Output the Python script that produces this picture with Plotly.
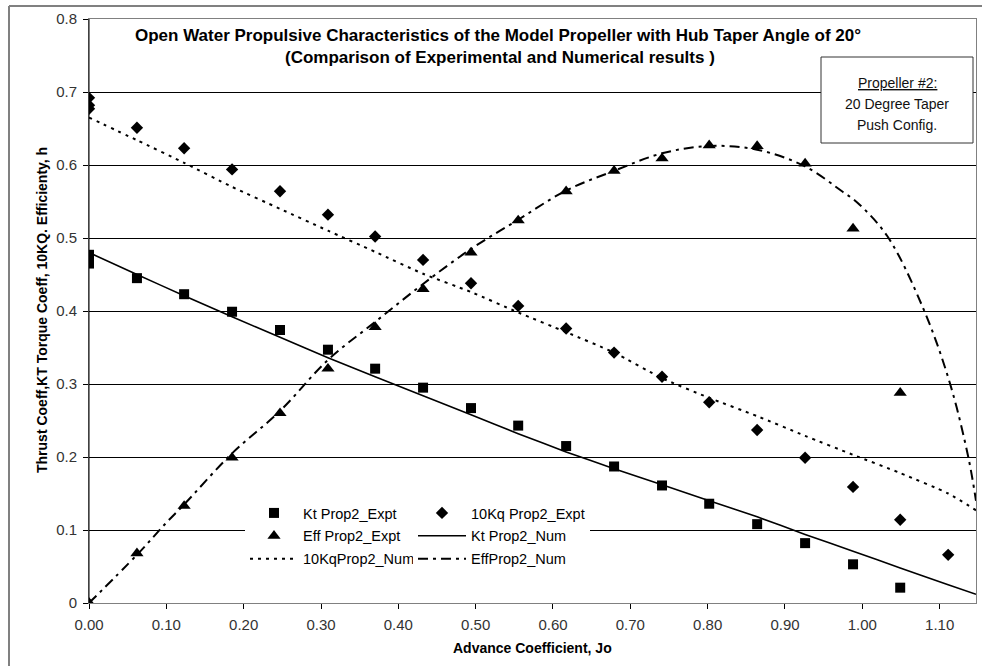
import plotly.graph_objects as go

# ---------------- data ----------------
J_expt = [0.0, 0.0, 0.062, 0.123, 0.185, 0.247, 0.309, 0.370, 0.432, 0.494,
          0.555, 0.617, 0.679, 0.741, 0.802, 0.864, 0.926, 0.988, 1.049]
kt_expt = [0.477, 0.465, 0.445, 0.423, 0.399, 0.374, 0.347, 0.321, 0.295, 0.267,
           0.243, 0.215, 0.187, 0.161, 0.136, 0.108, 0.082, 0.053, 0.021]

J_kq_expt = [0.0, 0.0, 0.0, 0.062, 0.123, 0.185, 0.247, 0.309, 0.370, 0.432, 0.494,
             0.555, 0.617, 0.679, 0.741, 0.802, 0.864, 0.926, 0.988, 1.049, 1.111]
kq10_expt = [0.692, 0.682, 0.677, 0.651, 0.623, 0.594, 0.564, 0.532, 0.502, 0.470, 0.438,
             0.407, 0.376, 0.343, 0.310, 0.275, 0.237, 0.199, 0.159, 0.114, 0.066]

J_eff_expt = [0.0, 0.0, 0.062, 0.123, 0.185, 0.247, 0.309, 0.370, 0.432, 0.494,
              0.555, 0.617, 0.679, 0.741, 0.802, 0.864, 0.926, 0.988, 1.049]
eff_expt = [0.0, 0.0, 0.068, 0.133, 0.199, 0.260, 0.321, 0.378, 0.430, 0.480,
            0.524, 0.564, 0.592, 0.609, 0.627, 0.626, 0.602, 0.513, 0.288]

J_num = [0.0, 0.062, 0.123, 0.185, 0.247, 0.309, 0.370, 0.432, 0.494, 0.555,
         0.617, 0.679, 0.741, 0.802, 0.864, 0.926, 0.988, 1.049, 1.111, 1.147]
kt_num = [0.480, 0.450, 0.421, 0.392, 0.364, 0.336, 0.310, 0.284, 0.258, 0.232,
          0.207, 0.184, 0.162, 0.140, 0.118, 0.094, 0.071, 0.048, 0.025, 0.012]
kq10_num = [0.665, 0.634, 0.603, 0.570, 0.540, 0.510, 0.481, 0.451, 0.426, 0.398,
            0.371, 0.343, 0.308, 0.281, 0.256, 0.229, 0.203, 0.178, 0.150, 0.127]

J_eff_num = [0.0, 0.062, 0.100, 0.123, 0.185, 0.247, 0.309, 0.370, 0.432, 0.494, 0.555,
             0.617, 0.679, 0.741, 0.802, 0.864, 0.926, 0.975, 0.993, 1.032, 1.079,
             1.113, 1.137, 1.147]
eff_num = [0.0, 0.066, 0.110, 0.135, 0.205, 0.263, 0.333, 0.385, 0.437, 0.485, 0.525,
           0.565, 0.592, 0.616, 0.626, 0.621, 0.598, 0.563, 0.549, 0.503, 0.403,
           0.302, 0.200, 0.140]

x_ticks = [0.0, 0.1, 0.2, 0.3, 0.4, 0.5, 0.6, 0.7, 0.8, 0.9, 1.0, 1.1]
y_ticks = [0, 0.1, 0.2, 0.3, 0.4, 0.5, 0.6, 0.7, 0.8]

title_line1 = "Open Water Propulsive Characteristics of the Model Propeller with Hub Taper Angle of 20°"
title_line2 = "(Comparison of Experimental and Numerical results )"
box_lines = ["<u>Propeller #2:</u>", "20 Degree Taper", "Push Config."]
x_title = "Advance Coefficient, Jo"
y_title = "Thrust Coeff,KT Torque Coeff, 10KQ. Efficienty, h"

# ---------------- figure ----------------
FONT = "Liberation Sans, Arial, sans-serif"
W, H = 982, 666
L, R, T, B = 89, 6, 19, 63
pw, ph = W - L - R, H - T - B

def px(xp):
    return (xp - L) / pw

def py(yp):
    return (H - B - yp) / ph

fig = go.Figure()

fig.add_trace(go.Scatter(x=J_expt, y=kt_expt, mode="markers", name="Kt Prop2_Expt",
                         marker=dict(symbol="square", size=10, color="black"),
                         legend="legend", legendgroup="a"))
fig.add_trace(go.Scatter(x=J_kq_expt, y=kq10_expt, mode="markers", name="10Kq Prop2_Expt",
                         marker=dict(symbol="diamond", size=9.5, color="black"),
                         legend="legend2", legendgroup="b"))
fig.add_trace(go.Scatter(x=J_eff_expt, y=eff_expt, mode="markers", name="Eff Prop2_Expt",
                         marker=dict(symbol="triangle-up", size=11.5, color="black"),
                         legend="legend", legendgroup="c"))
fig.add_trace(go.Scatter(x=J_num, y=kt_num, mode="lines", name="Kt Prop2_Num",
                         line=dict(color="black", width=1.6, shape="spline", smoothing=0.6),
                         legend="legend2", legendgroup="d"))
fig.add_trace(go.Scatter(x=J_num, y=kq10_num, mode="lines", name="10KqProp2_Num",
                         line=dict(color="black", width=2, dash="3px,5px", shape="spline", smoothing=0.6),
                         legend="legend", legendgroup="e"))
fig.add_trace(go.Scatter(x=J_eff_num, y=eff_num, mode="lines", name="EffProp2_Num",
                         line=dict(color="black", width=2, dash="10px,5px,3px,5px", shape="spline", smoothing=1.0),
                         legend="legend2", legendgroup="f"))

legend_common = dict(bgcolor="white", borderwidth=0, font=dict(family=FONT, size=14.5, color="black"),
                     traceorder="grouped", tracegroupgap=1, itemwidth=48,
                     xanchor="left", yanchor="top", orientation="v", itemclick=False,
                     itemdoubleclick=False)

fig.update_layout(
    width=W, height=H,
    margin=dict(l=L, r=R, t=T, b=B, autoexpand=False),
    paper_bgcolor="white", plot_bgcolor="white",
    font=dict(family=FONT, size=12, color="black"),
    legend=dict(x=px(245), y=py(497), **legend_common),
    legend2=dict(x=px(413), y=py(497), **legend_common),
    xaxis=dict(range=[0, 1.147], tickvals=x_ticks, tickformat=".2f",
               showgrid=False, zeroline=False, showline=True, linecolor="#808080", linewidth=1,
               mirror=True, ticks="outside", ticklen=5, tickcolor="black",
               tickfont=dict(family=FONT, size=15, color="#333"), ticklabelstandoff=3),
    yaxis=dict(range=[0, 0.8], tickvals=y_ticks,
               showgrid=True, gridcolor="black", gridwidth=1, zeroline=False,
               showline=True, linecolor="#808080", linewidth=1, mirror=True,
               ticks="outside", ticklen=5, tickcolor="black",
               tickfont=dict(family=FONT, size=15, color="#333"), ticklabelstandoff=3),
    showlegend=True,
)

annotations = [
    dict(text=f"<b>{title_line1}</b>", x=px(498), y=py(35), xref="paper", yref="paper",
         showarrow=False, xanchor="center", yanchor="middle",
         font=dict(family=FONT, size=17, color="black")),
    dict(text=f"<b>{title_line2}</b>", x=px(500), y=py(57), xref="paper", yref="paper",
         showarrow=False, xanchor="center", yanchor="middle",
         font=dict(family=FONT, size=17, color="black")),
    dict(text=f"<b>{x_title}</b>", x=px(532), y=py(648), xref="paper", yref="paper",
         showarrow=False, xanchor="center", yanchor="middle",
         font=dict(family=FONT, size=14, color="black")),
    dict(text=f"<b>{y_title}</b>", x=px(42), y=py(310), xref="paper", yref="paper",
         showarrow=False, xanchor="center", yanchor="middle", textangle=-90,
         font=dict(family=FONT, size=14, color="black")),
]
for yp, t in zip([83, 104, 125], box_lines):
    annotations.append(dict(text=t, x=px(897), y=py(yp), xref="paper", yref="paper",
                            showarrow=False, xanchor="center", yanchor="middle",
                            font=dict(family=FONT, size=14, color="#111")))
fig.update_layout(annotations=annotations)

shapes = [
    # propeller info box
    dict(type="rect", xref="paper", yref="paper", x0=px(821), x1=px(973), y0=py(143), y1=py(57),
         line=dict(color="#333", width=1), fillcolor="white", layer="above"),
    # outer chart border (left and top visible)
    dict(type="line", xref="paper", yref="paper", x0=px(9), x1=px(9), y0=py(700), y1=py(6),
         line=dict(color="#808080", width=2)),
    dict(type="line", xref="paper", yref="paper", x0=px(9), x1=px(1000), y0=py(6), y1=py(6),
         line=dict(color="#808080", width=2)),
    # left axis in black
    dict(type="line", xref="paper", yref="paper", x0=0, x1=0, y0=0, y1=1,
         line=dict(color="black", width=1)),
]
fig.update_layout(shapes=shapes)

fig.write_html("out.html", config={"displayModeBar": False},
               post_script="document.body.style.margin='0';")
